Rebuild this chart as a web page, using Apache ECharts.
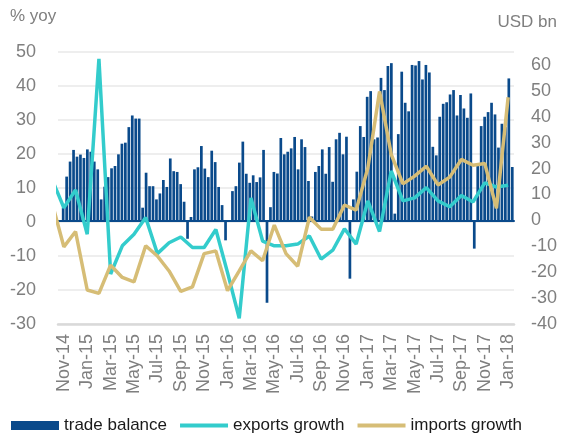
<!DOCTYPE html>
<html>
<head>
<meta charset="utf-8">
<title>trade</title>
<script src="https://cdn.jsdelivr.net/npm/echarts@6.0.0/dist/echarts.min.js"></script>
<style>
  html, body { margin: 0; padding: 0; background: #fff; }
  #main { width: 568px; height: 437px; }
</style>
</head>
<body>
<div id="main"></div>
<script>
// monthly axis (Oct-14 sits just left of the plot and is clipped)
var months = ['Oct-14','Nov-14','Dec-14','Jan-15','Feb-15','Mar-15','Apr-15','May-15','Jun-15','Jul-15','Aug-15','Sep-15','Oct-15',
    'Nov-15','Dec-15','Jan-16','Feb-16','Mar-16','Apr-16','May-16','Jun-16','Jul-16','Aug-16','Sep-16','Oct-16',
    'Nov-16','Dec-16','Jan-17','Feb-17','Mar-17','Apr-17','May-17','Jun-17','Jul-17','Aug-17','Sep-17','Oct-17',
    'Nov-17','Dec-17','Jan-18'];
var tickLabels = ['Nov-14','Jan-15','Mar-15','May-15','Jul-15','Sep-15','Nov-15','Jan-16','Mar-16','May-16',
    'Jul-16','Sep-16','Nov-16','Jan-17','Mar-17','May-17','Jul-17','Sep-17','Nov-17','Jan-18'];
// % yoy
var exportsGrowth = [12.5, 4.2, 9.4, -3.6, 48.0, -15.3, -7.0, -3.6, 1.3, -9.3, -6.1, -4.4, -7.5, -7.5, -2.2, -14.9, -28.3,
    7.1, -5.6, -7.0, -7.0, -6.5, -4.1, -10.9, -8.3, -2.0, -6.5, 6.2, -2.8, 15.0, 6.2, 7.1, 10.1, 6.2, 4.5, 7.8, 5.9,
    11.5, 10.3, 10.8];
var importsGrowth = [5.5, -7.3, -2.8, -20.0, -21.0, -12.7, -16.3, -17.6, -7.0, -10.0, -14.4, -20.4, -19.1, -9.3, -8.5,
    -20.2, -14.4, -8.5, -11.4, -0.9, -9.3, -13.0, 1.4, -2.1, -2.1, 5.0, 3.5, 15.9, 38.4, 19.9, 11.2, 13.5, 16.4, 10.9,
    13.2, 18.4, 16.7, 17.2, 4.0, 36.7];
// USD bn
var tradeBalance = [null,
    4.9, 16.9, 22.7, 27.2, 24.6, 25.4, 24.1, 27.4, 26.5, 22.7,
    19.7, 8.1, 13.0, 16.7, 20.1, 21.0, 25.5, 29.6, 30.0, 36.0,
    40.5, 39.3, 39.3, 4.9, 18.4, 13.2, 13.2, 8.1, 10.4, 15.6,
    12.9, 23.9, 19.0, 18.7, 14.0, 7.2, -7.1, 1.3, 19.7, 20.5,
    28.7, 20.0, 16.7, 26.9, 22.5, 12.9, 5.9, -7.7, 0, 11.3,
    13.2, 22.3, 30.4, 18.0, 14.5, 17.4, 14.8, 16.6, 27.2, -31.8,
    5.1, 18.7, 18.1, 31.8, 25.5, 26.5, 27.8, 32.2, 19.7, 31.3,
    28.3, 15.2, 1.5, 18.7, 21.0, 27.4, 18.0, 28.3, 14.9, 31.3,
    33.8, 25.5, 32.3, -22.5, 8.1, 18.8, 36.4, 32.2, 47.7, 49.9,
    31.3, 32.0, 55.0, 50.3, 59.6, 60.7, 2.6, 33.3, 57.4, 45.4,
    42.1, 60.0, 59.8, 61.5, 54.4, 60.0, 57.1, 28.4, 25.1, 40.0,
    45.0, 45.6, 48.6, 50.3, 40.5, 48.4, 43.2, 39.6, 49.0, -10.9,
    21.6, 36.4, 40.0, 41.8, 45.4, 40.9, 28.1, 37.3, 36.0, 54.8,
    20.6];

var font = 'Liberation Sans, Arial, sans-serif';
var gray = '#7f7f7f';
var lineIcon = 'path://M0,0H48V4H0Z';

function pairs(arr) {
    return arr.map(function (v, i) { return [i, v]; });
}

var myChart = echarts.init(document.getElementById('main'), null, {renderer: 'canvas'});
var option = {
    animation: false,
    backgroundColor: '#fff',
    textStyle: {fontFamily: font},
    grid: {left: 58, right: 54, top: 52, bottom: 113},
    graphic: [
        {type: 'text', left: 10, top: 8, style: {text: '% yoy', fill: gray, font: '17px ' + font}},
        {type: 'text', right: 11, top: 14, style: {text: 'USD bn', fill: gray, font: '17px ' + font}}
    ],
    legend: {
        left: 11,
        top: 417,
        padding: 0,
        itemWidth: 48,
        itemHeight: 9,
        itemGap: 13,
        textStyle: {fontSize: 17, color: '#1a1a1a', fontFamily: font},
        data: [
            {name: 'trade balance', icon: 'rect'},
            {name: 'exports growth', icon: lineIcon},
            {name: 'imports growth', icon: lineIcon}
        ]
    },
    xAxis: [
        {
            // months for the growth lines
            type: 'value',
            min: 0.5,
            max: months.length - 0.5,
            position: 'bottom',
            axisLine: {show: true, onZero: false, lineStyle: {color: '#d9d9d9', width: 2.5}},
            axisTick: {show: false},
            splitLine: {show: false},
            axisLabel: {
                customValues: tickLabels.map(function (l) { return months.indexOf(l); }),
                rotate: 90,
                margin: 10,
                color: gray,
                fontSize: 18,
                fontFamily: font,
                formatter: function (v) { return months[Math.round(v)]; }
            }
        },
        {
            // slots for the trade balance bars
            type: 'category',
            data: tradeBalance.map(function (v, i) { return i; }),
            position: 'bottom',
            axisLine: {show: true, onZero: true, onZeroAxisIndex: 1, lineStyle: {color: '#0a4a8b', width: 2}},
            axisTick: {show: false},
            axisLabel: {show: false},
            splitLine: {show: false}
        }
    ],
    yAxis: [
        {
            type: 'value',
            min: -30,
            max: 50,
            interval: 10,
            axisLine: {show: false},
            axisTick: {show: false},
            axisLabel: {color: gray, fontSize: 18, fontFamily: font, margin: 22},
            splitLine: {lineStyle: {color: '#e8e8e8', width: 1.5}}
        },
        {
            type: 'value',
            min: -40,
            max: 65,
            interval: 10,
            position: 'right',
            axisLine: {show: false},
            axisTick: {show: false},
            axisLabel: {color: gray, fontSize: 18, fontFamily: font, margin: 17, showMaxLabel: false},
            splitLine: {show: false}
        }
    ],
    series: [
        {
            name: 'trade balance',
            type: 'bar',
            xAxisIndex: 1,
            yAxisIndex: 1,
            barWidth: '78%',
            itemStyle: {color: '#0a4a8b'},
            data: tradeBalance
        },
        {
            name: 'exports growth',
            type: 'line',
            xAxisIndex: 0,
            yAxisIndex: 0,
            symbol: 'none',
            clip: true,
            lineStyle: {color: '#33cccc', width: 3.5},
            itemStyle: {color: '#33cccc'},
            data: pairs(exportsGrowth)
        },
        {
            name: 'imports growth',
            type: 'line',
            xAxisIndex: 0,
            yAxisIndex: 0,
            symbol: 'none',
            clip: true,
            lineStyle: {color: '#d6bd76', width: 3.5},
            itemStyle: {color: '#d6bd76'},
            data: pairs(importsGrowth)
        }
    ]
};
myChart.setOption(option);
</script>
</body>
</html>
